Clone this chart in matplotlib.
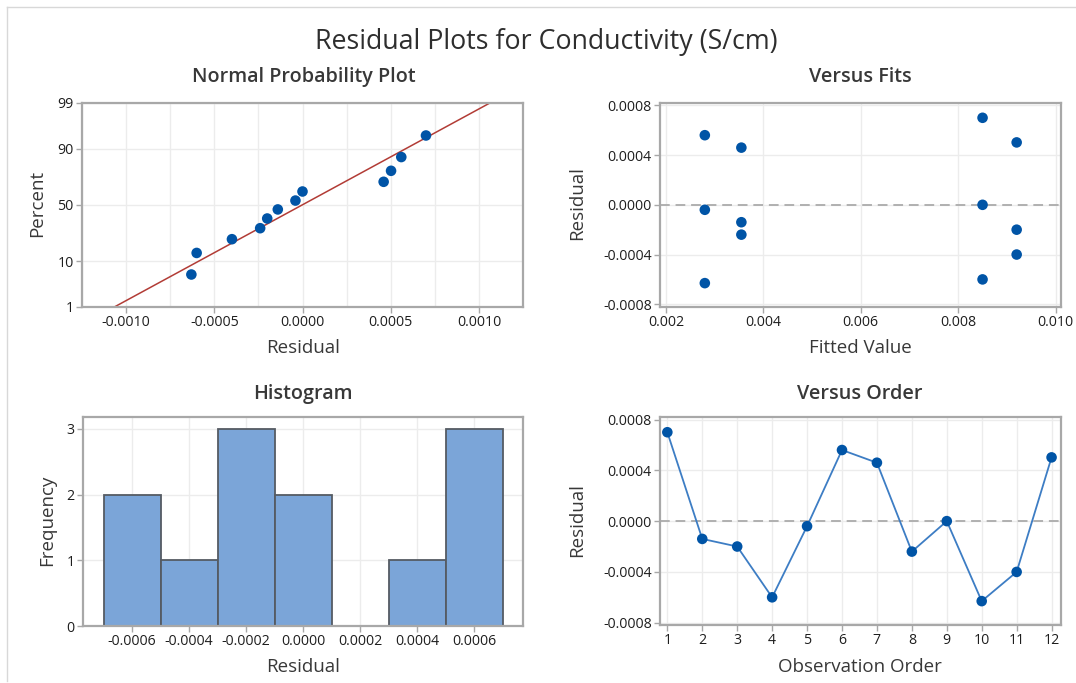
import matplotlib
matplotlib.use("Agg")
import matplotlib.pyplot as plt
import numpy as np
from matplotlib.lines import Line2D
from statistics import NormalDist

plt.rcParams['font.family'] = ['Open Sans', 'DejaVu Sans']

# residuals and fitted values, listed in observation order
order = list(range(1, 13))
residuals = [0.00070, -0.00014, -0.00020, -0.00060, -0.00004, 0.00056,
             0.00046, -0.00024, 0.00000, -0.00063, -0.00040, 0.000502]
fitted = [0.00850, 0.00355, 0.00920, 0.00850, 0.00280, 0.00280,
          0.00355, 0.00355, 0.00850, 0.00280, 0.00920, 0.00920]

hist_bins = [-0.0007, -0.0005, -0.0003, -0.0001, 0.0001, 0.0003, 0.0005, 0.0007]
pct_ticks = [1, 10, 50, 90, 99]

W, H = 1076, 683
DOT = '#0054A6'
LINE_BLUE = '#3D7DC4'
GRID = '#ECECEC'
SPINE = '#A8A8A8'
TXT = '#383838'


def px_axes(fig, left, top, right, bottom):
    return fig.add_axes([left / W, 1 - bottom / H, (right - left) / W, (bottom - top) / H])


def style(ax):
    for s in ax.spines.values():
        s.set_color(SPINE)
        s.set_linewidth(1.6)
    ax.tick_params(direction='out', length=4, width=1, color=SPINE,
                   labelsize=10.2, labelcolor='#1E1E1E', pad=2)
    ax.set_axisbelow(True)


def ftext(x, y, s, color=TXT, **kw):
    fig.text(x / W, 1 - y / H, s, ha='center', va='center', color=color, **kw)


fig = plt.figure(figsize=(W / 100, H / 100), dpi=100)

# thin frame along the top and left edges
fig.add_artist(Line2D([7 / W, 1], [1 - 7 / H, 1 - 7 / H], color='#D8D8D8', lw=1))
fig.add_artist(Line2D([7 / W, 7 / W], [1 - 7 / H, 1 - 681 / H], color='#D8D8D8', lw=1))

ftext(546, 42, 'Residual Plots for Conductivity (S/cm)', fontsize=19.3, color='#2E2E2E')

# --- normal probability plot ---
nd = NormalDist()
r = np.array(residuals)
n = len(r)
r_sorted = np.sort(r)
pos = [(i - 0.3) / (n + 0.4) for i in range(1, n + 1)]
z = [nd.inv_cdf(p) for p in pos]
mu, sd = r.mean(), r.std(ddof=1)

ax1 = px_axes(fig, 82, 103, 523, 307)
style(ax1)
zlim = nd.inv_cdf(0.99)
xl = np.array([-0.0012, 0.0012])
ax1.plot(xl, (xl - mu) / sd, color='#B23C36', lw=1.1, zorder=2)
ax1.scatter(r_sorted, z, s=58, color=DOT, zorder=3, edgecolors='none')
ax1.set_xlim(-0.0012, 0.0012)
ax1.set_ylim(-zlim, zlim)
ax1.set_yticks([nd.inv_cdf(p / 100) for p in pct_ticks])
ax1.set_yticklabels([str(p) for p in pct_ticks])
ax1.set_xticks([-0.001, -0.0005, 0, 0.0005, 0.001])
ax1.set_xticklabels(['-0.0010', '-0.0005', '0.0000', '0.0005', '0.0010'])
ax1.set_xticks(np.arange(-0.00125, 0.0013, 0.00025), minor=True)
ax1.tick_params(which='minor', length=0)
ax1.grid(True, which='both', axis='x', color=GRID, lw=1)
ax1.grid(True, axis='y', color=GRID, lw=1)
ftext(304, 77, 'Normal Probability Plot', fontsize=14.2, fontweight='semibold')
ftext(303, 348, 'Residual', fontsize=13.5)
ftext(37, 203, 'Percent', fontsize=13.5, rotation=90)

# --- versus fits ---
ax2 = px_axes(fig, 660, 103, 1061, 307)
style(ax2)
ax2.axhline(0, color='#B0B0B0', lw=1.4, ls=(0, (5, 3)), zorder=1)
ax2.scatter(fitted, residuals, s=58, color=DOT, zorder=3, edgecolors='none')
ax2.set_xlim(0.00188, 0.01011)
ax2.set_ylim(-0.000822, 0.000819)
ax2.set_xticks([0.002, 0.004, 0.006, 0.008, 0.010])
ax2.set_xticklabels(['0.002', '0.004', '0.006', '0.008', '0.010'])
ax2.set_yticks([-0.0008, -0.0004, 0, 0.0004, 0.0008])
ax2.set_yticklabels(['-0.0008', '-0.0004', '0.0000', '0.0004', '0.0008'])
ax2.grid(True, color=GRID, lw=1)
ftext(860, 77, 'Versus Fits', fontsize=14.2, fontweight='semibold')
ftext(860, 348, 'Fitted Value', fontsize=13.5)
ftext(577, 203, 'Residual', fontsize=13.5, rotation=90)

# --- histogram ---
ax3 = px_axes(fig, 83, 417, 523, 626)
style(ax3)
ax3.hist(residuals, bins=hist_bins, color='#7BA5D8', edgecolor='#555B63', lw=1.3, zorder=2)
ax3.set_xlim(-0.000772, 0.00077)
ax3.set_ylim(0, 3.18)
ax3.set_xticks([-0.0006, -0.0004, -0.0002, 0, 0.0002, 0.0004, 0.0006])
ax3.set_xticklabels(['-0.0006', '-0.0004', '-0.0002', '0.0000', '0.0002', '0.0004', '0.0006'])
ax3.set_yticks([0, 1, 2, 3])
ax3.grid(True, color=GRID, lw=1)
ftext(303, 394, 'Histogram', fontsize=14.2, fontweight='semibold')
ftext(303, 667, 'Residual', fontsize=13.5)
ftext(47, 520, 'Frequency', fontsize=13.5, rotation=90)

# --- versus order ---
ax4 = px_axes(fig, 660, 417, 1061, 625)
style(ax4)
ax4.axhline(0, color='#B0B0B0', lw=1.4, ls=(0, (5, 3)), zorder=1)
ax4.plot(order, residuals, color=LINE_BLUE, lw=1.3, zorder=2)
ax4.scatter(order, residuals, s=58, color=DOT, zorder=3, edgecolors='none')
ax4.set_xlim(0.79, 12.27)
ax4.set_ylim(-0.000818, 0.00082)
ax4.set_xticks(order)
ax4.set_yticks([-0.0008, -0.0004, 0, 0.0004, 0.0008])
ax4.set_yticklabels(['-0.0008', '-0.0004', '0.0000', '0.0004', '0.0008'])
ax4.grid(True, color=GRID, lw=1)
ftext(860, 394, 'Versus Order', fontsize=14.2, fontweight='semibold')
ftext(860, 667, 'Observation Order', fontsize=13.5)
ftext(577, 520, 'Residual', fontsize=13.5, rotation=90)

fig.savefig('out.png', dpi=100)
